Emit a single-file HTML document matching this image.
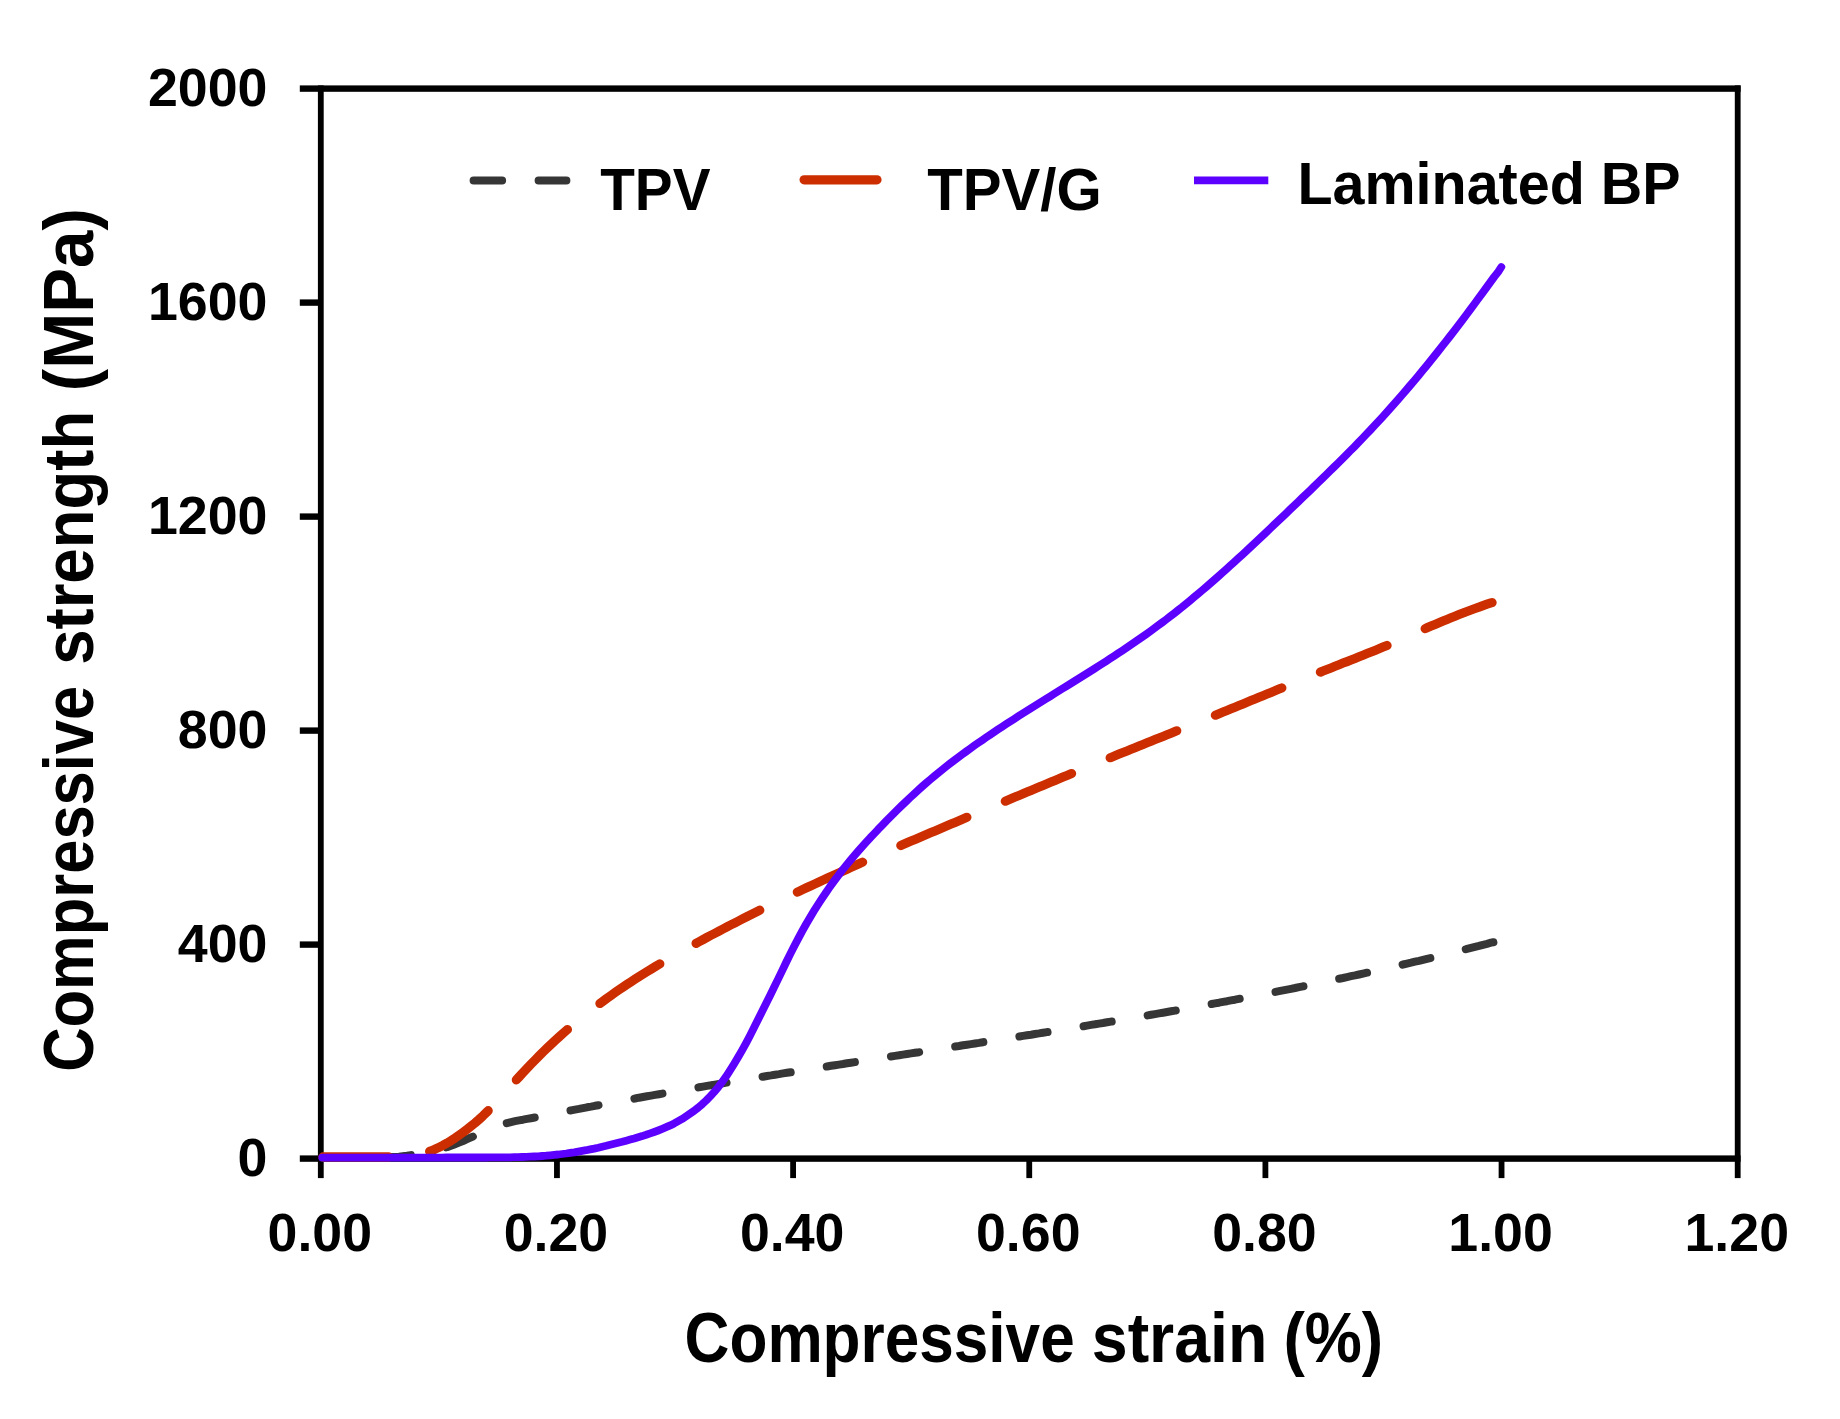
<!DOCTYPE html>
<html lang="en">
<head>
<meta charset="utf-8">
<title>Compressive strength vs compressive strain</title>
<style>
html,body{margin:0;padding:0;background:#fff;}
body{width:1840px;height:1419px;overflow:hidden;font-family:"Liberation Sans",sans-serif;}
svg text{fill:#000;}
svg{filter:blur(0.65px);}
</style>
</head>
<body>
<svg width="1840" height="1419" viewBox="0 0 1840 1419" style="display:block">
<rect x="299.80" y="85.40" width="1440.80" height="6.40" fill="#000"/>
<rect x="299.80" y="1155.40" width="1440.80" height="6.40" fill="#000"/>
<rect x="317.90" y="85.40" width="5.80" height="1092.70" fill="#000"/>
<rect x="1734.80" y="85.40" width="5.80" height="1092.70" fill="#000"/>
<rect x="554.05" y="1158.60" width="5.80" height="19.50" fill="#000"/>
<rect x="790.20" y="1158.60" width="5.80" height="19.50" fill="#000"/>
<rect x="1026.35" y="1158.60" width="5.80" height="19.50" fill="#000"/>
<rect x="1262.50" y="1158.60" width="5.80" height="19.50" fill="#000"/>
<rect x="1498.65" y="1158.60" width="5.80" height="19.50" fill="#000"/>
<rect x="299.80" y="941.40" width="21.00" height="6.40" fill="#000"/>
<rect x="299.80" y="727.40" width="21.00" height="6.40" fill="#000"/>
<rect x="299.80" y="513.40" width="21.00" height="6.40" fill="#000"/>
<rect x="299.80" y="299.40" width="21.00" height="6.40" fill="#000"/>
<text x="237.6" y="1175.6" font-size="54.0" font-family="'Liberation Sans', sans-serif" font-weight="bold" textLength="29.9" lengthAdjust="spacingAndGlyphs">0</text>
<text x="177.8" y="961.6" font-size="54.0" font-family="'Liberation Sans', sans-serif" font-weight="bold" textLength="89.7" lengthAdjust="spacingAndGlyphs">400</text>
<text x="177.8" y="747.6" font-size="54.0" font-family="'Liberation Sans', sans-serif" font-weight="bold" textLength="89.7" lengthAdjust="spacingAndGlyphs">800</text>
<text x="147.9" y="533.6" font-size="54.0" font-family="'Liberation Sans', sans-serif" font-weight="bold" textLength="119.6" lengthAdjust="spacingAndGlyphs">1200</text>
<text x="147.9" y="319.6" font-size="54.0" font-family="'Liberation Sans', sans-serif" font-weight="bold" textLength="119.6" lengthAdjust="spacingAndGlyphs">1600</text>
<text x="147.9" y="105.6" font-size="54.0" font-family="'Liberation Sans', sans-serif" font-weight="bold" textLength="119.6" lengthAdjust="spacingAndGlyphs">2000</text>
<text x="267.6" y="1251.2" font-size="54.0" font-family="'Liberation Sans', sans-serif" font-weight="bold" textLength="104.5" lengthAdjust="spacingAndGlyphs">0.00</text>
<text x="503.7" y="1251.2" font-size="54.0" font-family="'Liberation Sans', sans-serif" font-weight="bold" textLength="104.5" lengthAdjust="spacingAndGlyphs">0.20</text>
<text x="739.9" y="1251.2" font-size="54.0" font-family="'Liberation Sans', sans-serif" font-weight="bold" textLength="104.5" lengthAdjust="spacingAndGlyphs">0.40</text>
<text x="976.0" y="1251.2" font-size="54.0" font-family="'Liberation Sans', sans-serif" font-weight="bold" textLength="104.5" lengthAdjust="spacingAndGlyphs">0.60</text>
<text x="1212.2" y="1251.2" font-size="54.0" font-family="'Liberation Sans', sans-serif" font-weight="bold" textLength="104.5" lengthAdjust="spacingAndGlyphs">0.80</text>
<text x="1448.3" y="1251.2" font-size="54.0" font-family="'Liberation Sans', sans-serif" font-weight="bold" textLength="104.5" lengthAdjust="spacingAndGlyphs">1.00</text>
<text x="1684.5" y="1251.2" font-size="54.0" font-family="'Liberation Sans', sans-serif" font-weight="bold" textLength="104.5" lengthAdjust="spacingAndGlyphs">1.20</text>
<text y="1361.5" font-size="70.4" font-family="'Liberation Sans', sans-serif" font-weight="bold"><tspan x="684.6" textLength="390.1" lengthAdjust="spacingAndGlyphs">Compressive</tspan> <tspan x="1091.8" textLength="175.53" lengthAdjust="spacingAndGlyphs">strain</tspan> <tspan x="1283.4" textLength="99.81" lengthAdjust="spacingAndGlyphs">(%)</tspan></text>
<text transform="translate(93.3 1200) rotate(-90)" y="0" font-size="70.4" font-family="'Liberation Sans', sans-serif" font-weight="bold"><tspan x="128.2" textLength="386.0" lengthAdjust="spacingAndGlyphs">Compressive</tspan> <tspan x="535.2" textLength="254.01" lengthAdjust="spacingAndGlyphs">strength</tspan> <tspan x="808.8" textLength="183.14" lengthAdjust="spacingAndGlyphs">(MPa)</tspan></text>
<path d="M323.0 1157.4 L327.0 1157.4 L331.0 1157.4 L335.0 1157.4 L339.0 1157.4 L343.0 1157.4 L347.0 1157.4 L351.0 1157.4 L355.0 1157.4 L359.0 1157.4 L363.0 1157.4 L367.0 1157.4 L371.0 1157.4 L375.0 1157.4 L379.0 1157.3 L383.0 1157.3 L387.0 1157.2 L391.0 1157.1 L395.0 1156.9 L399.0 1156.7 L403.0 1156.2 L407.0 1155.7 L411.0 1155.1 L415.0 1154.5 L419.0 1153.9 L423.0 1153.2 L427.0 1152.5 L431.0 1151.6 L435.0 1150.7 L439.0 1149.6 L443.0 1148.4 L447.0 1147.1 L451.0 1145.7 L455.0 1144.2 L459.0 1142.6 L463.0 1141.0 L467.0 1139.2 L471.0 1137.4 L475.0 1135.6 L479.0 1133.9 L483.0 1132.2 L487.0 1130.5 L491.0 1128.8 L495.0 1127.2 L499.0 1125.6 L503.0 1124.2 L507.0 1123.1 L511.0 1122.1 L515.0 1121.2 L519.0 1120.4 L523.0 1119.7 L527.0 1118.9 L531.0 1118.2 L535.0 1117.5 L539.0 1116.7 L543.0 1115.9 L547.0 1115.1 L551.0 1114.3 L555.0 1113.5 L559.0 1112.7 L563.0 1111.9 L567.0 1111.2 L571.0 1110.4 L575.0 1109.6 L579.0 1108.9 L583.0 1108.1 L587.0 1107.3 L591.0 1106.6 L595.0 1105.8 L599.0 1105.1 L603.0 1104.3 L607.0 1103.6 L611.0 1102.8 L615.0 1102.1 L619.0 1101.4 L623.0 1100.6 L627.0 1099.9 L631.0 1099.2 L635.0 1098.5 L639.0 1097.7 L643.0 1097.0 L647.0 1096.3 L651.0 1095.6 L655.0 1094.9 L659.0 1094.2 L663.0 1093.5 L667.0 1092.8 L671.0 1092.1 L675.0 1091.4 L679.0 1090.7 L683.0 1090.0 L687.0 1089.3 L691.0 1088.6 L695.0 1088.0 L699.0 1087.3 L703.0 1086.6 L707.0 1085.9 L711.0 1085.3 L715.0 1084.6 L719.0 1083.9 L723.0 1083.2 L727.0 1082.6 L731.0 1081.9 L735.0 1081.3 L739.0 1080.6 L743.0 1079.9 L747.0 1079.3 L751.0 1078.6 L755.0 1078.0 L759.0 1077.3 L763.0 1076.7 L767.0 1076.0 L771.0 1075.4 L775.0 1074.7 L779.0 1074.1 L783.0 1073.4 L787.0 1072.8 L791.0 1072.2 L795.0 1071.5 L799.0 1070.9 L803.0 1070.3 L807.0 1069.6 L811.0 1069.0 L815.0 1068.4 L819.0 1067.7 L823.0 1067.1 L827.0 1066.5 L831.0 1065.8 L835.0 1065.2 L839.0 1064.6 L843.0 1064.0 L847.0 1063.3 L851.0 1062.7 L855.0 1062.1 L859.0 1061.5 L863.0 1060.8 L867.0 1060.2 L871.0 1059.6 L875.0 1059.0 L879.0 1058.4 L883.0 1057.7 L887.0 1057.1 L891.0 1056.5 L895.0 1055.9 L899.0 1055.3 L903.0 1054.6 L907.0 1054.0 L911.0 1053.4 L915.0 1052.8 L919.0 1052.2 L923.0 1051.5 L927.0 1050.9 L931.0 1050.3 L935.0 1049.7 L939.0 1049.1 L943.0 1048.4 L947.0 1047.8 L951.0 1047.2 L955.0 1046.6 L959.0 1046.0 L963.0 1045.3 L967.0 1044.7 L971.0 1044.1 L975.0 1043.5 L979.0 1042.9 L983.0 1042.2 L987.0 1041.6 L991.0 1041.0 L995.0 1040.3 L999.0 1039.7 L1003.0 1039.1 L1007.0 1038.5 L1011.0 1037.8 L1015.0 1037.2 L1019.0 1036.6 L1023.0 1035.9 L1027.0 1035.3 L1031.0 1034.7 L1035.0 1034.0 L1039.0 1033.4 L1043.0 1032.7 L1047.0 1032.1 L1051.0 1031.5 L1055.0 1030.8 L1059.0 1030.2 L1063.0 1029.5 L1067.0 1028.9 L1071.0 1028.2 L1075.0 1027.6 L1079.0 1026.9 L1083.0 1026.3 L1087.0 1025.6 L1091.0 1024.9 L1095.0 1024.3 L1099.0 1023.6 L1103.0 1023.0 L1107.0 1022.3 L1111.0 1021.6 L1115.0 1021.0 L1119.0 1020.3 L1123.0 1019.6 L1127.0 1018.9 L1131.0 1018.3 L1135.0 1017.6 L1139.0 1016.9 L1143.0 1016.2 L1147.0 1015.5 L1151.0 1014.8 L1155.0 1014.1 L1159.0 1013.4 L1163.0 1012.7 L1167.0 1012.0 L1171.0 1011.3 L1175.0 1010.6 L1179.0 1009.9 L1183.0 1009.2 L1187.0 1008.5 L1191.0 1007.8 L1195.0 1007.0 L1199.0 1006.3 L1203.0 1005.6 L1207.0 1004.9 L1211.0 1004.1 L1215.0 1003.4 L1219.0 1002.7 L1223.0 1001.9 L1227.0 1001.2 L1231.0 1000.4 L1235.0 999.7 L1239.0 998.9 L1243.0 998.2 L1247.0 997.4 L1251.0 996.6 L1255.0 995.9 L1259.0 995.1 L1263.0 994.3 L1267.0 993.5 L1271.0 992.7 L1275.0 992.0 L1279.0 991.2 L1283.0 990.4 L1287.0 989.6 L1291.0 988.8 L1295.0 988.0 L1299.0 987.1 L1303.0 986.3 L1307.0 985.5 L1311.0 984.7 L1315.0 983.9 L1319.0 983.0 L1323.0 982.2 L1327.0 981.4 L1331.0 980.5 L1335.0 979.7 L1339.0 978.8 L1343.0 978.0 L1347.0 977.1 L1351.0 976.2 L1355.0 975.4 L1359.0 974.5 L1363.0 973.6 L1367.0 972.7 L1371.0 971.8 L1375.0 970.9 L1379.0 970.0 L1383.0 969.1 L1387.0 968.2 L1391.0 967.3 L1395.0 966.4 L1399.0 965.5 L1403.0 964.5 L1407.0 963.6 L1411.0 962.7 L1415.0 961.7 L1419.0 960.8 L1423.0 959.8 L1427.0 958.8 L1431.0 957.9 L1435.0 956.9 L1439.0 955.9 L1443.0 955.0 L1447.0 954.0 L1451.0 953.0 L1455.0 952.0 L1459.0 951.0 L1463.0 950.0 L1467.0 948.9 L1471.0 947.9 L1475.0 946.9 L1479.0 945.9 L1483.0 944.8 L1487.0 943.8 L1491.0 942.7 L1495.0 941.9 L1497.0 941.1" fill="none" stroke="#363636" stroke-width="8" stroke-linecap="round" stroke-linejoin="round" stroke-dasharray="28.5 36.5" stroke-dashoffset="5.5"/>
<path d="M323.0 1156.9 L327.0 1156.9 L331.0 1156.9 L335.0 1156.9 L339.0 1156.9 L343.0 1156.9 L347.0 1156.9 L351.0 1156.9 L355.0 1156.9 L359.0 1156.9 L363.0 1156.9 L367.0 1156.9 L371.0 1156.9 L375.0 1156.9 L379.0 1156.9 L383.0 1156.9 L387.0 1156.9 L391.0 1156.9 L395.0 1156.8 L399.0 1156.7 L403.0 1156.5 L407.0 1156.2 L411.0 1155.9 L415.0 1155.4 L419.0 1154.8 L423.0 1153.8 L427.0 1152.4 L431.0 1150.9 L435.0 1149.2 L439.0 1147.3 L443.0 1145.3 L447.0 1143.1 L451.0 1140.7 L455.0 1138.1 L459.0 1135.3 L463.0 1132.4 L467.0 1129.3 L471.0 1126.2 L475.0 1123.0 L479.0 1119.5 L483.0 1115.8 L487.0 1111.9 L491.0 1107.9 L495.0 1103.6 L499.0 1099.2 L503.0 1094.7 L507.0 1090.2 L511.0 1085.8 L515.0 1081.3 L519.0 1077.0 L523.0 1072.7 L527.0 1068.4 L531.0 1064.2 L535.0 1060.1 L539.0 1056.0 L543.0 1052.0 L547.0 1048.2 L551.0 1044.4 L555.0 1040.6 L559.0 1037.0 L563.0 1033.4 L567.0 1029.9 L571.0 1026.5 L575.0 1023.1 L579.0 1019.8 L583.0 1016.5 L587.0 1013.4 L591.0 1010.2 L595.0 1007.1 L599.0 1004.1 L603.0 1001.2 L607.0 998.2 L611.0 995.4 L615.0 992.6 L619.0 989.8 L623.0 987.1 L627.0 984.4 L631.0 981.8 L635.0 979.2 L639.0 976.6 L643.0 974.1 L647.0 971.6 L651.0 969.2 L655.0 966.8 L659.0 964.4 L663.0 962.0 L667.0 959.7 L671.0 957.3 L675.0 955.1 L679.0 952.8 L683.0 950.6 L687.0 948.3 L691.0 946.1 L695.0 943.9 L699.0 941.8 L703.0 939.6 L707.0 937.4 L711.0 935.3 L715.0 933.2 L719.0 931.1 L723.0 929.0 L727.0 926.9 L731.0 924.8 L735.0 922.8 L739.0 920.7 L743.0 918.7 L747.0 916.6 L751.0 914.6 L755.0 912.6 L759.0 910.6 L763.0 908.6 L767.0 906.7 L771.0 904.7 L775.0 902.8 L779.0 900.8 L783.0 898.9 L787.0 897.0 L791.0 895.1 L795.0 893.2 L799.0 891.3 L803.0 889.4 L807.0 887.5 L811.0 885.7 L815.0 883.8 L819.0 882.0 L823.0 880.1 L827.0 878.3 L831.0 876.5 L835.0 874.7 L839.0 872.8 L843.0 871.0 L847.0 869.2 L851.0 867.4 L855.0 865.6 L859.0 863.8 L863.0 862.0 L867.0 860.3 L871.0 858.5 L875.0 856.7 L879.0 855.0 L883.0 853.2 L887.0 851.5 L891.0 849.8 L895.0 848.0 L899.0 846.3 L903.0 844.6 L907.0 842.8 L911.0 841.1 L915.0 839.4 L919.0 837.7 L923.0 836.0 L927.0 834.3 L931.0 832.6 L935.0 830.9 L939.0 829.2 L943.0 827.5 L947.0 825.8 L951.0 824.1 L955.0 822.4 L959.0 820.7 L963.0 819.0 L967.0 817.3 L971.0 815.6 L975.0 813.9 L979.0 812.3 L983.0 810.6 L987.0 808.9 L991.0 807.2 L995.0 805.5 L999.0 803.8 L1003.0 802.2 L1007.0 800.5 L1011.0 798.8 L1015.0 797.1 L1019.0 795.5 L1023.0 793.8 L1027.0 792.1 L1031.0 790.4 L1035.0 788.8 L1039.0 787.1 L1043.0 785.4 L1047.0 783.8 L1051.0 782.1 L1055.0 780.4 L1059.0 778.8 L1063.0 777.1 L1067.0 775.5 L1071.0 773.8 L1075.0 772.1 L1079.0 770.5 L1083.0 768.8 L1087.0 767.2 L1091.0 765.6 L1095.0 763.9 L1099.0 762.3 L1103.0 760.6 L1107.0 759.0 L1111.0 757.4 L1115.0 755.8 L1119.0 754.1 L1123.0 752.5 L1127.0 750.9 L1131.0 749.3 L1135.0 747.7 L1139.0 746.0 L1143.0 744.4 L1147.0 742.8 L1151.0 741.2 L1155.0 739.6 L1159.0 738.0 L1163.0 736.4 L1167.0 734.8 L1171.0 733.2 L1175.0 731.5 L1179.0 729.9 L1183.0 728.3 L1187.0 726.7 L1191.0 725.1 L1195.0 723.5 L1199.0 721.9 L1203.0 720.2 L1207.0 718.6 L1211.0 717.0 L1215.0 715.4 L1219.0 713.7 L1223.0 712.1 L1227.0 710.5 L1231.0 708.8 L1235.0 707.2 L1239.0 705.6 L1243.0 703.9 L1247.0 702.3 L1251.0 700.6 L1255.0 699.0 L1259.0 697.3 L1263.0 695.7 L1267.0 694.1 L1271.0 692.4 L1275.0 690.8 L1279.0 689.1 L1283.0 687.5 L1287.0 685.8 L1291.0 684.2 L1295.0 682.5 L1299.0 680.9 L1303.0 679.2 L1307.0 677.6 L1311.0 675.9 L1315.0 674.3 L1319.0 672.7 L1323.0 671.1 L1327.0 669.5 L1331.0 667.9 L1335.0 666.3 L1339.0 664.7 L1343.0 663.1 L1347.0 661.6 L1351.0 660.0 L1355.0 658.4 L1359.0 656.8 L1363.0 655.2 L1367.0 653.6 L1371.0 652.0 L1375.0 650.4 L1379.0 648.8 L1383.0 647.1 L1387.0 645.5 L1391.0 643.8 L1395.0 642.0 L1399.0 640.3 L1403.0 638.5 L1407.0 636.7 L1411.0 634.9 L1415.0 633.1 L1419.0 631.3 L1423.0 629.6 L1427.0 627.8 L1431.0 626.1 L1435.0 624.4 L1439.0 622.7 L1443.0 621.0 L1447.0 619.4 L1451.0 617.8 L1455.0 616.2 L1459.0 614.6 L1463.0 613.0 L1467.0 611.5 L1471.0 610.0 L1475.0 608.5 L1479.0 607.1 L1483.0 605.6 L1487.0 604.2 L1491.0 602.9 L1495.0 601.7 L1497.0 600.8" fill="none" stroke="#cc2e00" stroke-width="9.2" stroke-linecap="round" stroke-linejoin="round" stroke-dasharray="71.8 41.7" stroke-dashoffset="6.2"/>
<path d="M322.2 1157.6 L326.2 1157.6 L330.2 1157.6 L334.2 1157.6 L338.2 1157.6 L342.2 1157.6 L346.2 1157.6 L350.2 1157.6 L354.2 1157.6 L358.2 1157.6 L362.2 1157.6 L366.2 1157.6 L370.2 1157.6 L374.2 1157.6 L378.2 1157.6 L382.2 1157.6 L386.2 1157.6 L390.2 1157.6 L394.2 1157.6 L398.2 1157.6 L402.2 1157.6 L406.2 1157.6 L410.2 1157.6 L414.2 1157.6 L418.2 1157.6 L422.2 1157.6 L426.2 1157.6 L430.2 1157.6 L434.2 1157.6 L438.2 1157.6 L442.2 1157.6 L446.2 1157.5 L450.2 1157.5 L454.2 1157.5 L458.2 1157.5 L462.2 1157.5 L466.2 1157.5 L470.2 1157.5 L474.2 1157.5 L478.2 1157.5 L482.2 1157.5 L486.2 1157.5 L490.2 1157.4 L494.2 1157.4 L498.2 1157.4 L502.2 1157.4 L506.2 1157.3 L510.2 1157.3 L514.2 1157.2 L518.2 1157.1 L522.2 1157.0 L526.2 1156.9 L530.2 1156.7 L534.2 1156.5 L538.2 1156.3 L542.2 1156.0 L546.2 1155.7 L550.2 1155.3 L554.2 1154.9 L558.2 1154.5 L562.2 1154.0 L566.2 1153.5 L570.2 1152.9 L574.2 1152.3 L578.2 1151.6 L582.2 1150.9 L586.2 1150.2 L590.2 1149.4 L594.2 1148.6 L598.2 1147.7 L602.2 1146.7 L606.2 1145.8 L610.2 1144.8 L614.2 1143.8 L618.2 1142.8 L622.2 1141.8 L626.2 1140.7 L630.2 1139.6 L634.2 1138.5 L638.2 1137.3 L642.2 1136.1 L646.2 1134.8 L650.2 1133.4 L654.2 1132.0 L658.2 1130.5 L662.2 1128.9 L666.2 1127.2 L670.2 1125.4 L674.2 1123.4 L678.2 1121.2 L682.2 1118.9 L686.2 1116.3 L690.2 1113.6 L694.2 1110.8 L698.2 1107.6 L702.2 1104.2 L706.2 1100.5 L710.2 1096.4 L714.2 1092.0 L718.2 1087.2 L722.2 1081.9 L726.2 1076.3 L730.2 1070.2 L734.2 1063.8 L738.2 1057.1 L742.2 1050.1 L746.2 1042.8 L750.2 1035.2 L754.2 1027.3 L758.2 1019.3 L762.2 1011.3 L766.2 1003.3 L770.2 995.2 L774.2 987.1 L778.2 978.9 L782.2 970.6 L786.2 962.3 L790.2 954.1 L794.2 946.2 L798.2 938.6 L802.2 931.2 L806.2 924.0 L810.2 917.2 L814.2 910.6 L818.2 904.2 L822.2 898.1 L826.2 892.2 L830.2 886.4 L834.2 880.9 L838.2 875.6 L842.2 870.4 L846.2 865.4 L850.2 860.5 L854.2 855.7 L858.2 851.1 L862.2 846.6 L866.2 842.2 L870.2 837.8 L874.2 833.6 L878.2 829.3 L882.2 825.2 L886.2 821.0 L890.2 817.0 L894.2 813.0 L898.2 809.0 L902.2 805.1 L906.2 801.3 L910.2 797.5 L914.2 793.8 L918.2 790.1 L922.2 786.5 L926.2 783.0 L930.2 779.6 L934.2 776.2 L938.2 772.9 L942.2 769.7 L946.2 766.5 L950.2 763.4 L954.2 760.3 L958.2 757.3 L962.2 754.4 L966.2 751.5 L970.2 748.6 L974.2 745.7 L978.2 742.9 L982.2 740.2 L986.2 737.4 L990.2 734.7 L994.2 732.0 L998.2 729.3 L1002.2 726.7 L1006.2 724.1 L1010.2 721.5 L1014.2 718.9 L1018.2 716.3 L1022.2 713.8 L1026.2 711.3 L1030.2 708.7 L1034.2 706.2 L1038.2 703.7 L1042.2 701.2 L1046.2 698.7 L1050.2 696.3 L1054.2 693.8 L1058.2 691.3 L1062.2 688.8 L1066.2 686.4 L1070.2 683.9 L1074.2 681.4 L1078.2 678.9 L1082.2 676.4 L1086.2 673.9 L1090.2 671.4 L1094.2 668.9 L1098.2 666.3 L1102.2 663.8 L1106.2 661.2 L1110.2 658.6 L1114.2 656.0 L1118.2 653.3 L1122.2 650.7 L1126.2 648.0 L1130.2 645.3 L1134.2 642.6 L1138.2 639.8 L1142.2 637.0 L1146.2 634.2 L1150.2 631.3 L1154.2 628.4 L1158.2 625.4 L1162.2 622.5 L1166.2 619.5 L1170.2 616.4 L1174.2 613.3 L1178.2 610.1 L1182.2 607.0 L1186.2 603.7 L1190.2 600.4 L1194.2 597.1 L1198.2 593.8 L1202.2 590.4 L1206.2 587.0 L1210.2 583.5 L1214.2 580.0 L1218.2 576.5 L1222.2 572.9 L1226.2 569.3 L1230.2 565.7 L1234.2 562.1 L1238.2 558.4 L1242.2 554.8 L1246.2 551.1 L1250.2 547.3 L1254.2 543.6 L1258.2 539.9 L1262.2 536.1 L1266.2 532.3 L1270.2 528.5 L1274.2 524.7 L1278.2 520.9 L1282.2 517.1 L1286.2 513.3 L1290.2 509.4 L1294.2 505.6 L1298.2 501.8 L1302.2 497.9 L1306.2 494.1 L1310.2 490.3 L1314.2 486.4 L1318.2 482.5 L1322.2 478.7 L1326.2 474.8 L1330.2 470.8 L1334.2 466.9 L1338.2 463.0 L1342.2 459.0 L1346.2 455.0 L1350.2 450.9 L1354.2 446.9 L1358.2 442.8 L1362.2 438.6 L1366.2 434.4 L1370.2 430.2 L1374.2 425.9 L1378.2 421.6 L1382.2 417.3 L1386.2 412.9 L1390.2 408.4 L1394.2 403.9 L1398.2 399.4 L1402.2 394.7 L1406.2 390.1 L1410.2 385.4 L1414.2 380.7 L1418.2 375.9 L1422.2 371.1 L1426.2 366.2 L1430.2 361.3 L1434.2 356.3 L1438.2 351.3 L1442.2 346.2 L1446.2 341.1 L1450.2 336.0 L1454.2 330.8 L1458.2 325.6 L1462.2 320.3 L1466.2 315.0 L1470.2 309.7 L1474.2 304.3 L1478.2 298.8 L1482.2 293.4 L1486.2 287.9 L1490.2 282.4 L1494.2 276.9 L1498.2 271.8 L1501.3 267.0" fill="none" stroke="#5c00ff" stroke-width="7.8" stroke-linecap="round" stroke-linejoin="round"/>
<path d="M473.6 180.4 H566.4" fill="none" stroke="#363636" stroke-width="8" stroke-linecap="round" stroke-dasharray="28.5 36.5"/>
<path d="M804.1 179.8 H877" fill="none" stroke="#cc2e00" stroke-width="9.2" stroke-linecap="round"/>
<path d="M1194 180.3 H1268.3" fill="none" stroke="#5c00ff" stroke-width="7.7"/>
<text x="600.2" y="209.6" font-size="59.5" font-family="'Liberation Sans', sans-serif" font-weight="bold" textLength="110.3" lengthAdjust="spacingAndGlyphs">TPV</text>
<text x="927.2" y="209.8" font-size="59.5" font-family="'Liberation Sans', sans-serif" font-weight="bold" textLength="174.5" lengthAdjust="spacingAndGlyphs">TPV/G</text>
<text x="1297.5" y="204.0" font-size="59.5" font-family="'Liberation Sans', sans-serif" font-weight="bold" textLength="383" lengthAdjust="spacingAndGlyphs">Laminated BP</text>
</svg>
</body>
</html>
